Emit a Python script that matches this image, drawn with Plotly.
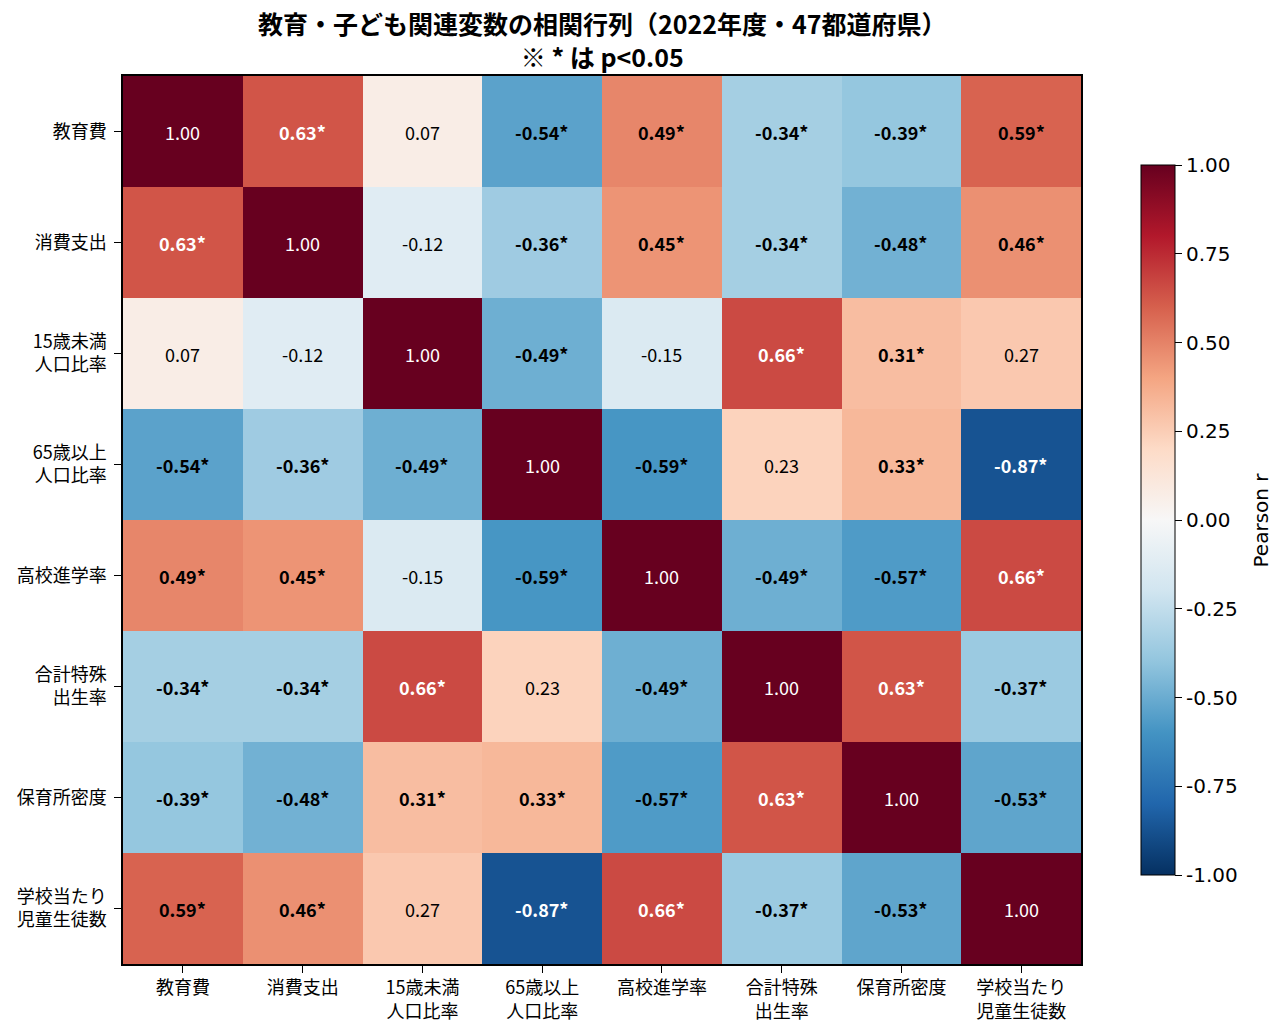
import plotly.graph_objects as go

# Variable labels (axis order, top to bottom / left to right)
labels = ["教育費", "消費支出", "15歳未満<br>人口比率", "65歳以上<br>人口比率",
          "高校進学率", "合計特殊<br>出生率", "保育所密度", "学校当たり<br>児童生徒数"]

# Pearson correlation matrix (2022, 47 prefectures)
corr = [
    [1.00, 0.63, 0.07, -0.54, 0.49, -0.34, -0.39, 0.59],
    [0.63, 1.00, -0.12, -0.36, 0.45, -0.34, -0.48, 0.46],
    [0.07, -0.12, 1.00, -0.49, -0.15, 0.66, 0.31, 0.27],
    [-0.54, -0.36, -0.49, 1.00, -0.59, 0.23, 0.33, -0.87],
    [0.49, 0.45, -0.15, -0.59, 1.00, -0.49, -0.57, 0.66],
    [-0.34, -0.34, 0.66, 0.23, -0.49, 1.00, 0.63, -0.37],
    [-0.39, -0.48, 0.31, 0.33, -0.57, 0.63, 1.00, -0.53],
    [0.59, 0.46, 0.27, -0.87, 0.66, -0.37, -0.53, 1.00],
]

# 1 = p<0.05 (marked with *), diagonal left unmarked
significant = [
    [0, 1, 0, 1, 1, 1, 1, 1],
    [1, 0, 0, 1, 1, 1, 1, 1],
    [0, 0, 0, 1, 0, 1, 1, 0],
    [1, 1, 1, 0, 1, 0, 1, 1],
    [1, 1, 0, 1, 0, 1, 1, 1],
    [1, 1, 1, 0, 1, 0, 1, 1],
    [1, 1, 1, 1, 1, 1, 0, 1],
    [1, 1, 0, 1, 1, 1, 1, 0],
]

cbar_ticks = [-1.0, -0.75, -0.5, -0.25, 0.0, 0.25, 0.5, 0.75, 1.0]
cbar_ticktext = ["-1.00", "-0.75", "-0.50", "-0.25", "0.00", "0.25", "0.50", "0.75", "1.00"]

# matplotlib RdBu_r (ColorBrewer 11 classes)
rdbu = ["rgb(5,48,97)", "rgb(33,102,172)", "rgb(67,147,195)", "rgb(146,197,222)",
        "rgb(209,229,240)", "rgb(247,247,247)", "rgb(253,219,199)", "rgb(244,165,130)",
        "rgb(214,96,77)", "rgb(178,24,43)", "rgb(103,0,31)"]
colorscale = [[i / 10, c] for i, c in enumerate(rdbu)]

FONT = "Noto Sans CJK JP"

fig = go.Figure(go.Heatmap(
    z=corr, x=labels, y=labels,
    zmin=-1, zmax=1, colorscale=colorscale,
    hoverinfo="skip",
    colorbar=dict(
        x=1.0626, xanchor="left", xpad=0, y=0.5, yanchor="middle", ypad=0, len=0.8,
        thickness=34, outlinewidth=1, outlinecolor="black",
        ticks="outside", ticklen=7, tickcolor="black",
        tickvals=cbar_ticks, ticktext=cbar_ticktext,
        tickfont=dict(family="DejaVu Sans", size=20, color="black"),
    ),
))

# cell annotations
for i, row in enumerate(corr):
    for j, r in enumerate(row):
        txt = f"{r:.2f}"
        if significant[i][j]:
            txt = f"<b>{txt}*</b>"
        fig.add_annotation(
            x=labels[j], y=labels[i], text=txt, showarrow=False,
            font=dict(family=FONT, size=18,
                      color="white" if abs(r) > 0.6 else "black"),
        )

fig.add_annotation(
    xref="paper", yref="paper", x=1.203, y=0.5, text="Pearson r",
    textangle=-90, showarrow=False,
    font=dict(family="DejaVu Sans", size=20, color="black"),
)

# two-line title
fig.add_annotation(
    xref="paper", yref="paper", x=0.5, y=1.0411, yanchor="middle",
    text="<b>教育・子ども関連変数の相関行列（2022年度・47都道府県）<br>※ * は p<0.05</b>",
    showarrow=False, font=dict(family=FONT, size=25, color="black"),
)

fig.update_layout(
    width=1280, height=1027,
    margin=dict(l=115, r=207, t=68, b=71),
    paper_bgcolor="white", plot_bgcolor="white",
    font=dict(family=FONT, color="black"),
)
fig.update_xaxes(showline=True, linecolor="black", linewidth=1.5, mirror=True,
                 ticks="outside", ticklen=7, tickcolor="black", automargin=False,
                 tickfont=dict(size=18), showgrid=False)
fig.update_yaxes(showline=True, linecolor="black", linewidth=1.5, mirror=True,
                 ticks="outside", ticklen=7, tickcolor="black", ticklabelstandoff=4,
                 automargin=False, tickfont=dict(size=18), showgrid=False,
                 autorange="reversed")

fig.write_html("out.html")
